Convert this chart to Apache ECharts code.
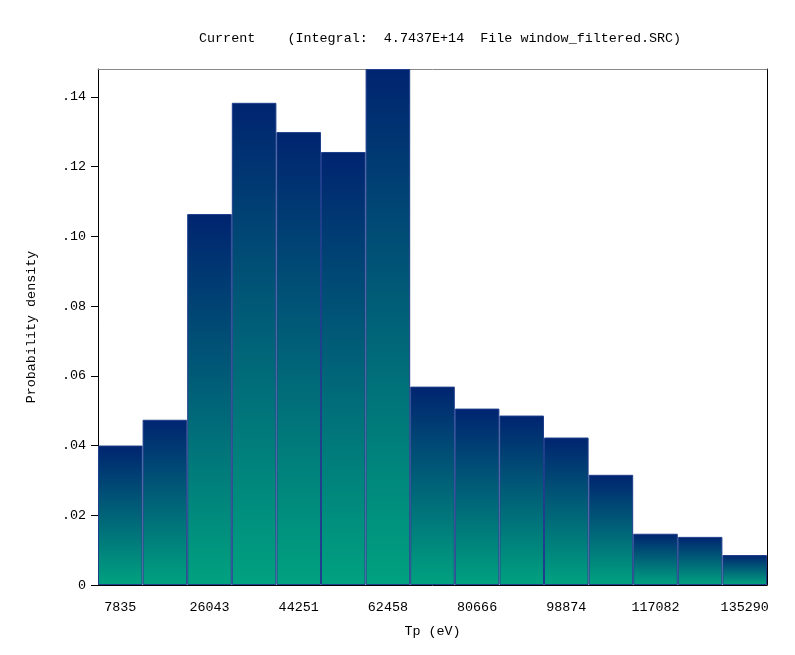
<!DOCTYPE html>
<html>
<head>
<meta charset="utf-8">
<script src="https://cdn.jsdelivr.net/npm/echarts@6/dist/echarts.min.js"></script>
<style>
html, body { margin: 0; padding: 0; background: #fff; }
#chart { width: 795px; height: 655px; }
</style>
</head>
<body>
<div id="chart"></div>
<script>
// bin labels (only every other bin is labelled in the original)
var binLabels = ['7835', '', '26043', '', '44251', '', '62458', '', '80666', '', '98874', '', '117082', '', '135290'];
// probability density per bin
var density = [0.0400, 0.0474, 0.1064, 0.1383, 0.1299, 0.1242, 0.1480, 0.0569, 0.0506, 0.0486, 0.0423, 0.0316, 0.0147, 0.0138, 0.0086];
var titleText = 'Current    (Integral:  4.7437E+14  File window_filtered.SRC)';

var font = 'Liberation Mono';
var myChart = echarts.init(document.getElementById('chart'));
var option = {
	animation: false,
	title: {
		text: titleText,
		left: 194,
		top: 27,
		textStyle: { fontFamily: font, fontSize: 13.4, fontWeight: 'normal', color: '#000' }
	},
	grid: { left: 98, right: 28, top: 69, bottom: 70 },
	xAxis: [{
		type: 'category',
		data: binLabels,
		boundaryGap: true,
		name: 'Tp (eV)',
		nameLocation: 'middle',
		nameGap: 40,
		nameTextStyle: { fontFamily: font, fontSize: 13.4, color: '#000' },
		axisLine: { lineStyle: { color: '#000', width: 1 } },
		axisTick: {
			alignWithLabel: true,
			length: 6,
			interval: function(i, v) { return v !== ''; },
			lineStyle: { color: '#000' }
		},
		axisLabel: { interval: 0, margin: 16, fontFamily: font, fontSize: 13.4, color: '#000' },
		splitLine: { show: false }
	}, {
		type: 'category',
		position: 'top',
		data: binLabels,
		axisLine: { show: true, onZero: false, lineStyle: { color: '#888', width: 1 } },
		axisTick: { show: false },
		axisLabel: { show: false }
	}],
	yAxis: [{
		type: 'value',
		min: 0,
		max: 0.148,
		interval: 0.02,
		name: 'Probability density',
		nameLocation: 'middle',
		nameGap: 60,
		nameTextStyle: { fontFamily: font, fontSize: 13.4, color: '#000' },
		axisLine: { show: true, lineStyle: { color: '#000', width: 1 } },
		axisTick: { show: true, length: 7, lineStyle: { color: '#000' } },
		axisLabel: {
			margin: 12,
			showMaxLabel: false,
			fontFamily: font,
			fontSize: 13.4,
			color: '#000',
			formatter: function(v) {
				if (v === 0) return '0';
				return '.' + Math.round(v * 100).toString().padStart(2, '0');
			}
		},
		splitLine: { show: false }
	}, {
		type: 'value',
		position: 'right',
		min: 0,
		max: 0.148,
		axisLine: { show: true, onZero: false, lineStyle: { color: '#000', width: 1 } },
		axisTick: { show: false },
		axisLabel: { show: false },
		splitLine: { show: false }
	}],
	series: [{
		type: 'bar',
		data: density,
		barCategoryGap: 0,
		itemStyle: {
			color: new echarts.graphic.LinearGradient(0, 0, 0, 1, [
				{ offset: 0, color: '#002470' },
				{ offset: 1, color: '#00a280' }
			]),
			borderColor: '#1f3f8c',
			borderWidth: 1
		}
	}]
};
myChart.setOption(option);
</script>
</body>
</html>
